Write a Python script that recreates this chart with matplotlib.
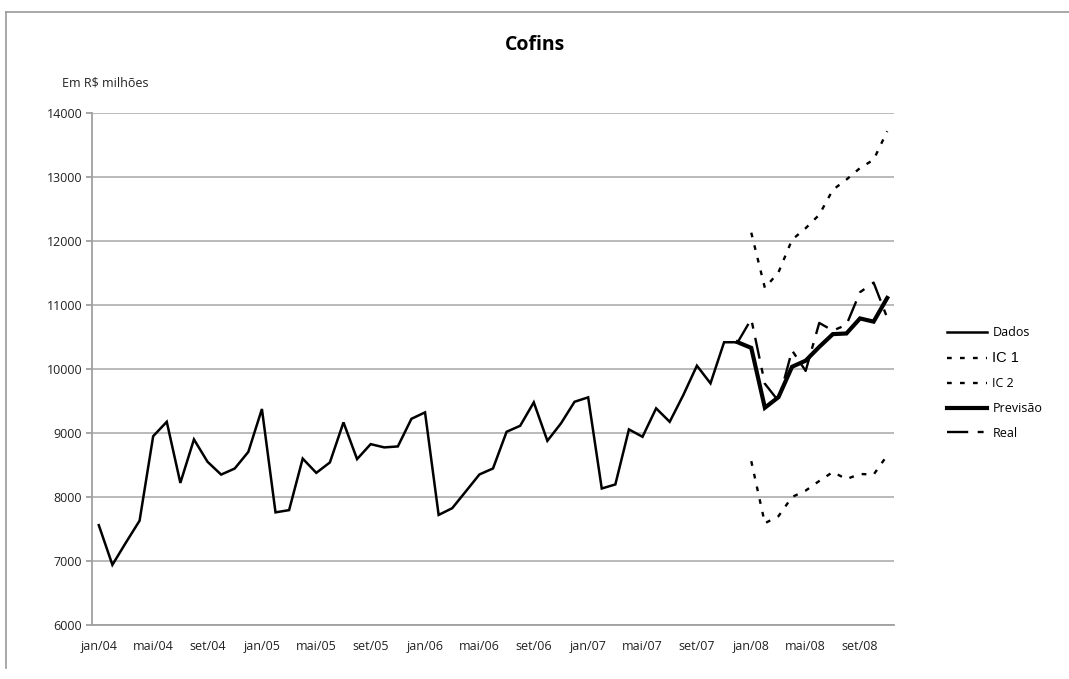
import matplotlib
matplotlib.use("Agg")
import matplotlib.pyplot as plt
from matplotlib.lines import Line2D

# rótulos do eixo x (um a cada 4 meses)
rotulos = ['jan/04', 'mai/04', 'set/04', 'jan/05', 'mai/05', 'set/05',
           'jan/06', 'mai/06', 'set/06', 'jan/07', 'mai/07', 'set/07',
           'jan/08', 'mai/08', 'set/08']

# Dados observados: jan/04 a dez/07 (R$ milhões)
dados = [7560, 6940, 7290, 7630, 8950, 9175, 8220, 8900, 8550, 8350, 8445, 8705,
         9375, 7760, 7795, 8600, 8377, 8540, 9166, 8592, 8826, 8775, 8790, 9222,
         9322, 7720, 7825, 8088, 8352, 8446, 9019, 9113, 9479, 8878, 9150, 9488,
         9557, 8133, 8196, 9056, 8941, 9385, 9175, 9593, 10052, 9776, 10418, 10418]

# Previsão e Real: dez/07 a nov/08
previsao = [10418, 10330, 9395, 9560, 10035, 10130, 10345, 10545, 10555, 10790, 10740, 11110]
real = [10418, 10780, 9770, 9500, 10290, 9970, 10720, 10600, 10690, 11200, 11350, 10800]

# Intervalos de confiança: jan/08 a nov/08
ic1 = [12130, 11267, 11510, 12020, 12200, 12410, 12800, 12960, 13140, 13270, 13715]
ic2 = [8560, 7590, 7700, 8000, 8100, 8250, 8390, 8280, 8360, 8350, 8650]

plt.rcParams['font.family'] = ['Open Sans', 'DejaVu Sans']

fig = plt.figure(figsize=(10.69, 6.79), dpi=100)
ax = fig.add_axes([92 / 1069, 1 - 625 / 679, 802 / 1069, 512 / 679])

x_dados = list(range(len(dados)))
x_prev = list(range(47, 47 + len(previsao)))
x_ic = list(range(48, 48 + len(ic1)))

ax.plot(x_dados, dados, color='black', lw=1.8, label='Dados', solid_joinstyle='miter')
ax.plot(x_ic, ic1, color='black', lw=1.7, dashes=(2, 3.5), label='IC 1')
ax.plot(x_ic, ic2, color='black', lw=1.7, dashes=(2, 3.5), label='IC 2')
ax.plot(x_prev, previsao, color='black', lw=3.0, label='Previsão', solid_joinstyle='miter')
ax.plot(x_prev, real, color='black', lw=1.7, dashes=(9, 4, 2.5, 4), label='Real')

ax.set_xlim(-0.5, 58.5)
ax.set_ylim(6000, 14000)
ax.set_yticks(range(6000, 14001, 1000))
ax.set_xticks(range(0, 59, 4))
ax.set_xticklabels(rotulos)
ax.grid(axis='y', color='#b4b4b4', lw=1.3)
ax.set_axisbelow(True)
for s in ['top', 'right']:
    ax.spines[s].set_visible(False)
ax.spines['left'].set_color('#a0a0a0')
ax.spines['bottom'].set_color('#a0a0a0')
ax.spines['left'].set_linewidth(1.3)
ax.spines['bottom'].set_linewidth(1.3)
ax.tick_params(axis='x', length=0, pad=11, labelsize=9, colors='#222222')
ax.tick_params(axis='y', length=4, width=1.3, color='#a0a0a0', pad=3, labelsize=9, colors='#222222')
for t in ax.get_yticklabels():
    t.set_color('#222222')

# título e unidade
fig.text(0.5, 1 - 45 / 679, 'Cofins', ha='center', va='center', fontsize=14, fontweight='bold')
fig.text(62 / 1069, 1 - 83 / 679, 'Em R$ milhões', ha='left', va='center', fontsize=9, color='#222222')

# legenda
leg = fig.legend(loc='center left', bbox_to_anchor=(936 / 1069, 1 - 383 / 679), frameon=False,
                 fontsize=9, handlelength=3.2, handletextpad=0.4, labelspacing=0.95)
leg.get_texts()[1].set_fontfamily('Liberation Sans')
leg.get_texts()[1].set_fontsize(10.5)

# moldura do gráfico
fig.add_artist(Line2D([6 / 1069, 6 / 1069], [1 - 668 / 679, 1 - 12 / 679], color='#9a9a9a', lw=1.2))
fig.add_artist(Line2D([6 / 1069, 1.0], [1 - 12 / 679, 1 - 12 / 679], color='#9a9a9a', lw=1.2))

fig.savefig('out.png', dpi=100)
